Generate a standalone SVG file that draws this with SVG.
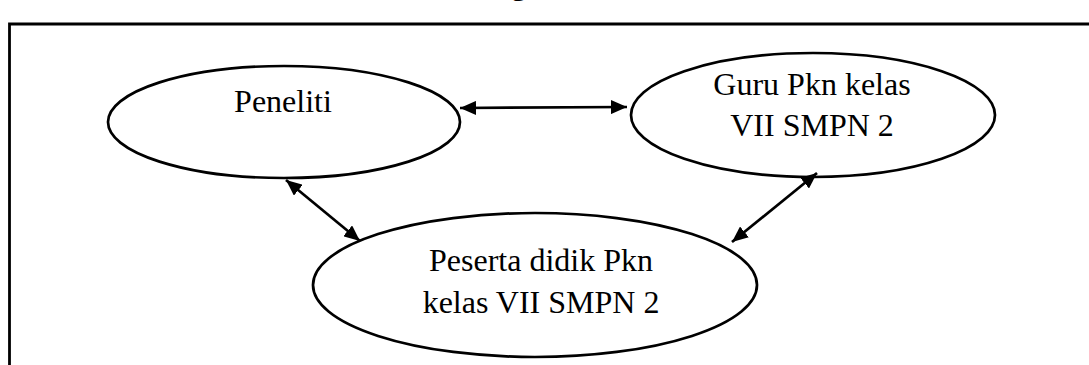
<svg xmlns="http://www.w3.org/2000/svg" width="1089" height="365" viewBox="0 0 1089 365">
<style>
.node{fill:#fff;stroke:#000;stroke-width:2.7}
.lbl{font-family:"Liberation Serif","Times New Roman",serif;font-size:32px;fill:#000;text-anchor:middle}
.conn{stroke:#000;stroke-width:2.7;fill:none;marker-start:url(#ah);marker-end:url(#ah)}
</style>
<defs>
<marker id="ah" viewBox="0 0 16 14" refX="16" refY="7" markerWidth="16" markerHeight="14" markerUnits="userSpaceOnUse" orient="auto-start-reverse">
<path d="M0,0 L16,7 L0,14 Z" fill="#000"/>
</marker>
</defs>
<rect width="1089" height="365" fill="#fff"/>
<text x="519" y="-5" style="font-family:'Liberation Serif',serif;font-size:30px;font-weight:bold;text-anchor:middle">g</text>
<path d="M9.5,365 L9.5,24 L1089,24" fill="none" stroke="#000" stroke-width="2.8"/>
<g id="peneliti">
<ellipse class="node" cx="284" cy="122" rx="176" ry="56"/>
<text class="lbl" x="283" y="112">Peneliti</text>
</g>
<g id="guru">
<ellipse class="node" cx="813" cy="115" rx="182" ry="62"/>
<text class="lbl" x="812" y="95">Guru Pkn kelas</text>
<text class="lbl" x="812" y="136">VII SMPN 2</text>
</g>
<g id="peserta">
<ellipse class="node" cx="535" cy="285" rx="222" ry="72"/>
<text class="lbl" x="541" y="271">Peserta didik Pkn</text>
<text class="lbl" x="541" y="313">kelas VII SMPN 2</text>
</g>
<g id="connectors">
<line class="conn" x1="460" y1="108" x2="627" y2="107"/>
<line class="conn" x1="286" y1="180" x2="360" y2="241"/>
<line class="conn" x1="817" y1="173" x2="732" y2="242"/>
</g>
</svg>
